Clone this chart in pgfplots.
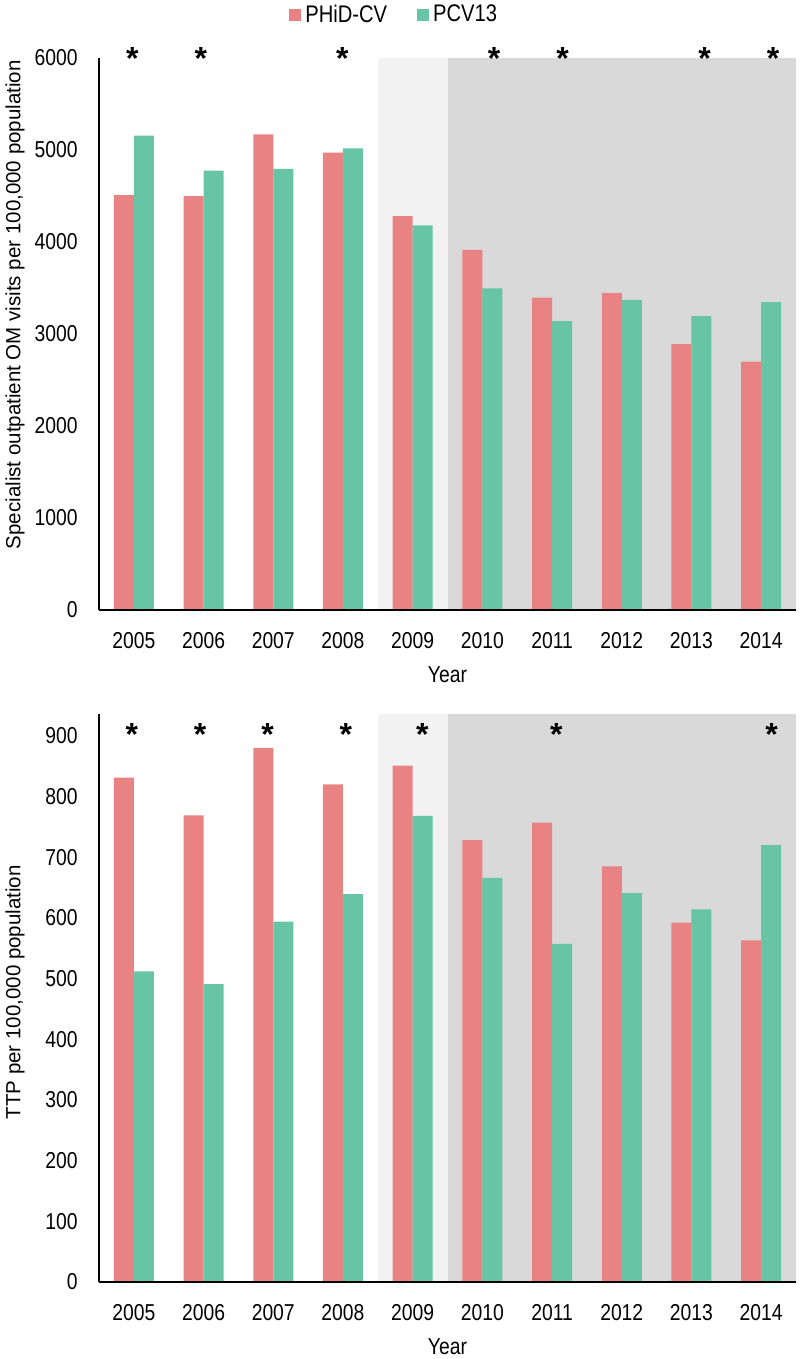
\documentclass[border=0pt]{standalone}
\usepackage{pgfplots}
\pgfplotsset{compat=1.18}
\usepackage{pgfplotstable}
\usepackage{fontspec}
\setmainfont{Liberation Sans}
\newfontfamily\narrow[FakeStretch=0.84]{Liberation Sans}
\definecolor{cred}{RGB}{233,131,131}
\definecolor{cgreen}{RGB}{103,196,165}
\definecolor{shlight}{RGB}{242,242,242}
\definecolor{shdark}{RGB}{217,217,217}

\pgfplotstableread{
i red green
0 4510 5155
1 4498 4776
2 5170 4794
3 4971 5018
4 4282 4181
5 3913 3495
6 3394 3141
7 3448 3372
8 2890 3195
9 2700 3347
}\omdata

\pgfplotstableread{
i red green
0 831 512
1 769 491
2 880 594
3 820 639
4 851 768
5 728 666
6 757 557
7 685 641
8 592 614
9 563 720
}\ttpdata

\tikzset{mystar/.style={font=\bfseries\fontsize{16}{16}\selectfont, anchor=north, inner sep=0pt}}

\pgfplotsset{
  mystyle/.style={
    scale only axis, width=348.5pt,
    xmin=-0.5, xmax=9.5, ymin=0,
    axis on top, clip=false,
    axis x line*=bottom, axis y line*=left,
    axis line style={-, black, line width=0.75pt},
    major tick length=0pt,
    xtick={0,1,2,3,4,5,6,7,8,9},
    xticklabels={2005,2006,2007,2008,2009,2010,2011,2012,2013,2014},
    xticklabel style={font=\narrow\fontsize{11.5}{13}\selectfont, anchor=north, inner sep=0pt, yshift=-11pt},
    yticklabel style={font=\narrow\fontsize{11.5}{13}\selectfont, anchor=east, inner sep=0pt, xshift=-10.5pt},
    /pgf/number format/assume math mode=true,
    /pgf/number format/1000 sep={},
    xlabel={Year},
    xlabel style={font=\narrow\fontsize{11.5}{13}\selectfont, anchor=center},
  },
  redbar/.style={ybar, fill=cred, draw=none, bar width=10pt, bar shift=-5pt,
    legend image code/.code={\fill[cred] (0pt,-3pt) rectangle (6pt,3pt);}},
  greenbar/.style={ybar, fill=cgreen, draw=none, bar width=10pt, bar shift=5pt,
    legend image code/.code={\fill[cgreen] (0pt,-3pt) rectangle (6pt,3pt);}},
}

\begin{document}
\begin{tikzpicture}
\useasboundingbox (0pt,0pt) rectangle (400pt,679.5pt);
% top panel
\begin{axis}[mystyle,
  at={(49.5pt,374.5pt)}, anchor=south west,
  height=276pt, ymax=6000,
  ytick={0,1000,2000,3000,4000,5000,6000},
  ylabel={Specialist outpatient OM visits per 100,000 population},
  ylabel style={font=\fontsize{10.25}{12}\selectfont, anchor=center, at={(axis description cs:-0.1205,0.553)}},
  xlabel style={at={(axis description cs:0.5,-0.1178)}},
  legend style={at={(0.425,1.078)}, anchor=center, draw=none, fill=none,
    legend columns=2, font=\narrow\fontsize{12}{14}\selectfont,
    /tikz/every even column/.append style={column sep=13pt},
    legend cell align=left},
]
\fill[shlight] (axis cs:3.5,0) rectangle (axis cs:4.5,6000);
\fill[shdark] (axis cs:4.5,0) rectangle (axis cs:9.5,6000);
\addplot[redbar] table[x=i, y=red] {\omdata};
\addlegendentry{PHiD-CV}
\addplot[greenbar] table[x=i, y=green] {\omdata};
\addlegendentry{PCV13}
\node[mystar, yshift=5.5pt] at (axis cs:-0.02,6000) {*};
\node[mystar, yshift=5.5pt] at (axis cs:0.96,6000) {*};
\node[mystar, yshift=5.5pt] at (axis cs:2.99,6000) {*};
\node[mystar, yshift=5.5pt] at (axis cs:5.17,6000) {*};
\node[mystar, yshift=5.5pt] at (axis cs:6.15,6000) {*};
\node[mystar, yshift=5.5pt] at (axis cs:8.19,6000) {*};
\node[mystar, yshift=5.5pt] at (axis cs:9.17,6000) {*};
\end{axis}
% bottom panel
\begin{axis}[mystyle,
  at={(49.5pt,38.5pt)}, anchor=south west,
  height=284pt, ymax=936,
  ytick={0,100,200,300,400,500,600,700,800,900},
  ylabel={TTP per 100,000 population},
  ylabel style={font=\fontsize{10.25}{12}\selectfont, anchor=center, at={(axis description cs:-0.1205,0.51)}},
  xlabel style={at={(axis description cs:0.5,-0.1144)}},
]
\fill[shlight] (axis cs:3.5,0) rectangle (axis cs:4.5,936);
\fill[shdark] (axis cs:4.5,0) rectangle (axis cs:9.5,936);
\addplot[redbar] table[x=i, y=red] {\ttpdata};
\addplot[greenbar] table[x=i, y=green] {\ttpdata};
\node[mystar, yshift=-4.5pt] at (axis cs:-0.03,936) {*};
\node[mystar, yshift=-4.5pt] at (axis cs:0.95,936) {*};
\node[mystar, yshift=-4.5pt] at (axis cs:1.92,936) {*};
\node[mystar, yshift=-4.5pt] at (axis cs:3.04,936) {*};
\node[mystar, yshift=-4.5pt] at (axis cs:4.14,936) {*};
\node[mystar, yshift=-4.5pt] at (axis cs:6.06,936) {*};
\node[mystar, yshift=-4.5pt] at (axis cs:9.15,936) {*};
\end{axis}
\end{tikzpicture}
\end{document}
